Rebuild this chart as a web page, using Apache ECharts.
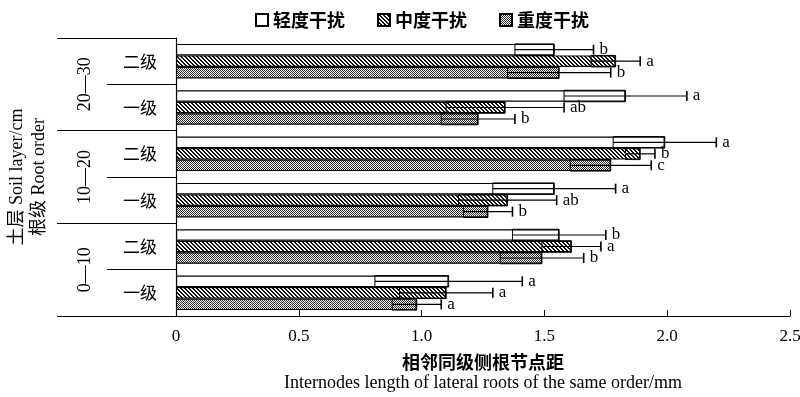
<!DOCTYPE html>
<html>
<head>
<meta charset="utf-8">
<script src="https://cdn.jsdelivr.net/npm/echarts@6/dist/echarts.min.js"></script>
<style>
  html, body { margin: 0; padding: 0; background: #fff; }
  #chart { width: 800px; height: 397px; }
</style>
</head>
<body>
<div id="chart"></div>
<script>
  // categories, bottom to top
  const layers = ['0—10', '0—10', '10—20', '10—20', '20—30', '20—30']
  const orders = ['一级', '二级', '一级', '二级', '一级', '二级']
  const groups = ['0—10', '10—20', '20—30']
  const seriesNames = ['轻度干扰', '中度干扰', '重度干扰']

  // mean values
  const lightMean = [1.11, 1.56, 1.54, 1.99, 1.83, 1.54]
  const mediumMean = [1.10, 1.61, 1.35, 1.89, 1.34, 1.79]
  const heavyMean = [0.98, 1.49, 1.27, 1.77, 1.23, 1.56]
  // standard deviations
  const lightSd = [0.30, 0.19, 0.25, 0.21, 0.25, 0.16]
  const mediumSd = [0.19, 0.12, 0.20, 0.06, 0.24, 0.10]
  const heavySd = [0.10, 0.17, 0.10, 0.165, 0.15, 0.21]
  // significance letters
  const lightSig = ['a', 'b', 'a', 'a', 'a', 'b']
  const mediumSig = ['a', 'a', 'ab', 'b', 'ab', 'a']
  const heavySig = ['a', 'b', 'b', 'c', 'b', 'b']

  const BAR_W = 11.5
  const SERIF = '"Liberation Serif", "Noto Sans CJK SC", serif'
  const CJK = '"Noto Sans CJK SC", sans-serif'

  const categories = layers.map((l, i) => l + '|' + orders[i])

  // fill patterns: diagonal hatch and fine checker
  function makePattern(kind) {
    const n = 4
    const c = document.createElement('canvas')
    c.width = n
    c.height = n
    const ctx = c.getContext('2d')
    ctx.fillStyle = '#fff'
    ctx.fillRect(0, 0, n, n)
    for (let x = 0; x < n; x++) {
      for (let y = 0; y < n; y++) {
        let on
        if (kind === 'hatch') {
          const d = ((x - y) % n + n) % n
          on = d === 0 || d === 1
          ctx.fillStyle = '#111'
        } else {
          on = (x + y) % 2 === 0
          ctx.fillStyle = '#2a2a2a'
        }
        if (on) ctx.fillRect(x, y, 1, 1)
      }
    }
    return { image: c, repeat: 'repeat' }
  }

  const fills = ['#fff', makePattern('hatch'), makePattern('dots')]
  const means = [lightMean, mediumMean, heavyMean]
  const sds = [lightSd, mediumSd, heavySd]
  const sigs = [lightSig, mediumSig, heavySig]

  function barSeries(s) {
    return {
      name: seriesNames[s],
      type: 'bar',
      barWidth: BAR_W,
      barGap: 0,
      data: means[s],
      itemStyle: {
        color: fills[s],
        borderColor: '#000',
        borderWidth: 1.2
      }
    }
  }

  const errData = []
  const errLetters = []
  for (let s = 0; s < 3; s++) {
    for (let i = 0; i < categories.length; i++) {
      errData.push([means[s][i], i, sds[s][i], s])
      errLetters.push(sigs[s][i])
    }
  }

  function renderError(params, api) {
    const mean = api.value(0)
    const cat = api.value(1)
    const sd = api.value(2)
    const s = api.value(3)
    const c = api.coord([mean, cat])
    const y = c[1] + (s - 1) * BAR_W
    const xl = api.coord([mean - sd, cat])[0]
    const xr = api.coord([mean + sd, cat])[0]
    const h = BAR_W
    return {
      type: 'group',
      children: [
        { type: 'rect', shape: { x: xl, y: y - h / 2, width: c[0] - xl, height: h },
          style: { fill: null, stroke: '#000', lineWidth: 1 } },
        { type: 'line', shape: { x1: xl, y1: y, x2: xr, y2: y },
          style: { stroke: '#000', lineWidth: 1.2 } },
        { type: 'line', shape: { x1: xr, y1: y - 5, x2: xr, y2: y + 5 },
          style: { stroke: '#000', lineWidth: 1.6 } },
        { type: 'text',
          style: { text: errLetters[params.dataIndex], x: xr + 6, y: y, align: 'left',
            verticalAlign: 'middle', fontSize: 17, fontFamily: SERIF, fill: '#000' } }
      ]
    }
  }

  const chart = echarts.init(document.getElementById('chart'))
  chart.setOption({
    animation: false,
    textStyle: { fontFamily: SERIF, color: '#000' },
    legend: {
      top: 6,
      left: 250,
      icon: 'rect',
      itemWidth: 12,
      itemHeight: 12,
      itemGap: 32,
      data: seriesNames,
      textStyle: { fontSize: 18, fontWeight: 'bold', color: '#000', fontFamily: CJK }
    },
    grid: { left: 176, right: 10, top: 38, bottom: 81, outerBoundsMode: 'none' },
    xAxis: {
      type: 'value',
      min: 0,
      max: 2.5,
      interval: 0.5,
      splitLine: { show: false },
      axisLine: { show: true, lineStyle: { color: '#000', width: 1.2 } },
      axisTick: { show: true, inside: true, length: 6, lineStyle: { color: '#000' } },
      axisLabel: {
        margin: 12,
        fontSize: 17,
        color: '#000',
        fontFamily: SERIF,
        formatter: v => (v === 0 ? '0' : v.toFixed(1))
      },
      name: '{a|相邻同级侧根节点距}\n{b|Internodes length of lateral roots of the same order/mm}',
      nameLocation: 'middle',
      nameGap: 36,
      nameTextStyle: {
        rich: {
          a: { fontSize: 18, fontWeight: 'bold', fontFamily: CJK, color: '#000', lineHeight: 21 },
          b: { fontSize: 18, fontFamily: SERIF, color: '#000', lineHeight: 21 }
        }
      }
    },
    yAxis: [
      {
        type: 'category',
        data: categories,
        position: 'left',
        axisLine: { show: true, lineStyle: { color: '#000', width: 1.2 } },
        axisTick: { show: true, length: 69, lineStyle: { color: '#000', width: 1 } },
        axisLabel: {
          margin: 19,
          fontSize: 17,
          color: '#000',
          fontFamily: CJK,
          formatter: v => v.split('|')[1]
        },
        name: '土层 Soil layer/cm\n根级 Root order',
        nameLocation: 'middle',
        nameRotate: 90,
        nameGap: 126,
        nameTextStyle: { fontSize: 18, lineHeight: 22, color: '#000', fontFamily: SERIF }
      },
      {
        type: 'category',
        data: groups,
        position: 'left',
        axisLine: { show: false },
        axisTick: { show: true, length: 119, lineStyle: { color: '#000', width: 1 } },
        axisLabel: {
          rotate: 90,
          margin: 82,
          fontSize: 18,
          color: '#000',
          fontFamily: SERIF
        }
      }
    ],
    series: [
      barSeries(0),
      barSeries(1),
      barSeries(2),
      {
        name: 'error',
        type: 'custom',
        renderItem: renderError,
        data: errData,
        z: 5,
        silent: true
      }
    ]
  })
</script>
</body>
</html>
